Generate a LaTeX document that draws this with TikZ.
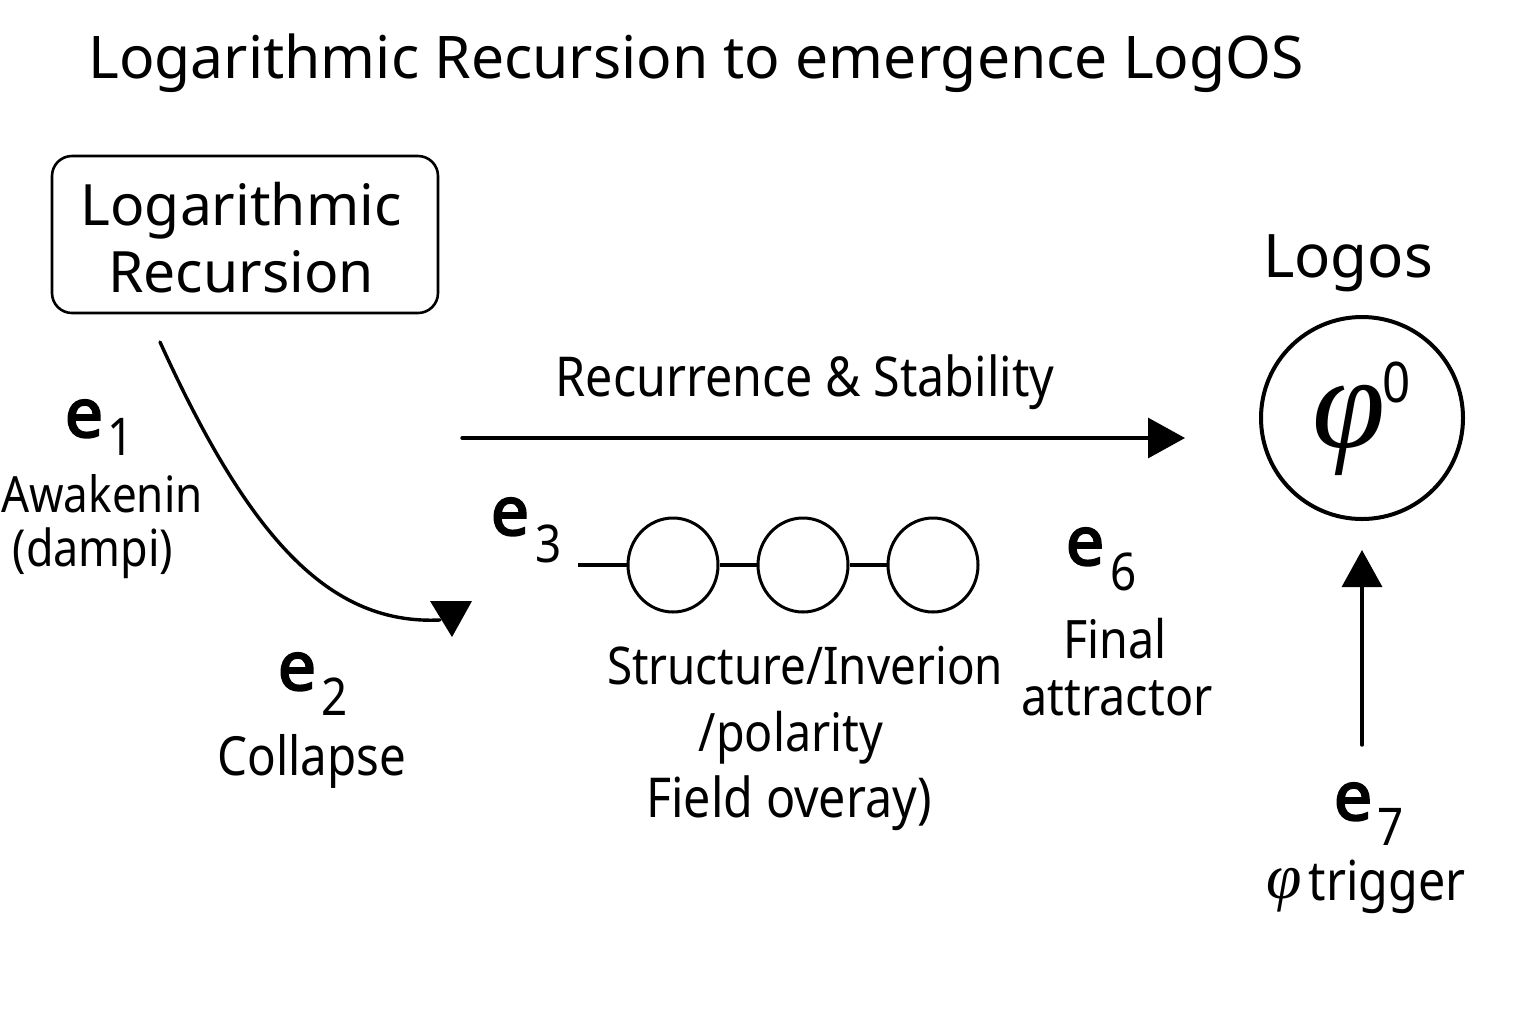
\documentclass[tikz,border=0pt]{standalone}
\usepackage{fontspec}
\setmainfont{Noto Sans}
\newfontfamily\condf{Noto Sans}[FakeStretch=0.88]
\newfontfamily\boldf{Noto Sans}[FakeBold=3]
\newfontfamily\phif{Liberation Serif}
\usetikzlibrary{arrows.meta,shapes.geometric}
\begin{document}
\begin{tikzpicture}[x=0.5pt,y=-0.5pt,
  lbl/.style={inner sep=0pt,anchor=base,font=\condf\fontsize{25.5}{30}\selectfont},
  big/.style={inner sep=0pt,anchor=base,font=\fontsize{28.5}{34}\selectfont},
  ebold/.style={inner sep=0pt,anchor=base,font=\boldf\fontsize{34}{40}\selectfont},
  esub/.style={inner sep=0pt,anchor=base,font=\condf\fontsize{26}{30}\selectfont},
  conn/.style={line width=1.7pt,line cap=round},
  tri/.style={-{Triangle[length=18.5pt,width=20pt]}},
  bead/.style={draw,line width=1.5pt,ellipse,minimum width=45pt,minimum height=47pt,inner sep=0pt}]
\useasboundingbox (0,0) rectangle (1536,1024);
\fill[white] (0,0) rectangle (1536,1024);
% title
\node[inner sep=0pt,anchor=base west,font=\fontsize{29.4}{34}\selectfont] (title) at (88,78) {Logarithmic Recursion to emergence LogOS};
% box
\node[draw,line width=1.3pt,rounded corners=10pt,minimum width=193pt,minimum height=78.5pt,inner sep=0pt] (box) at (245,234.5) {};
\node[big] (boxt1) at (241,225) {Logarithmic};
\node[big] (boxt2) at (241,292) {Recursion};
% curve e1 -> e2
\coordinate (cs) at (160,342);
\coordinate (ce) at (440,620);
\draw[conn] (cs) .. controls (250,540) and (330,625) .. (ce);
\fill (430,601) -- (472,601) -- (452,637) -- cycle;
% e1
\node[ebold] (e1) at (84,437) {e};
\node[esub] (e1s) at (121,455) {1};
\node[lbl,font=\condf\fontsize{25}{30}\selectfont] (aw) at (102,512) {Awakenin};
\node[lbl] (dp) at (93,566) {(dampi)};
% e2
\node[ebold] (e2) at (297,690) {e};
\node[esub] (e2s) at (335,715) {2};
\node[lbl,font=\condf\fontsize{27}{30}\selectfont] (col) at (312,775) {Collapse};
% main arrow
\node[lbl,font=\condf\fontsize{27.5}{32}\selectfont] (rs) at (805,396) {Recurrence \& Stability};
\coordinate (ma) at (462,438);
\coordinate (mb) at (1185,438);
\draw[conn,tri] (ma) -- (mb);
% e3 chain
\node[ebold] (e3) at (510,535) {e};
\node[esub] (e3s) at (549,562) {3};
\coordinate (c0) at (578,565);
\node[bead] (c1) at (673,565) {};
\node[bead] (c2) at (803,565) {};
\node[bead] (c3) at (933,565) {};
\draw[conn,line cap=butt] (c0) -- (c1.west);
\draw[conn,line cap=butt] (c1.east) -- (c2.west);
\draw[conn,line cap=butt] (c2.east) -- (c3.west);
\node[lbl,font=\condf\fontsize{26}{30}\selectfont] (st1) at (805,684) {Structure/Inverion};
\node[lbl,font=\condf\fontsize{26.5}{30}\selectfont] (st2) at (791,751) {/polarity};
\node[lbl,font=\condf\fontsize{27.5}{30}\selectfont] (st3) at (789,817) {Field overay)};
% e6
\node[ebold] (e6) at (1085,565) {e};
\node[esub] (e6s) at (1124,590) {6};
\node[lbl,font=\condf\fontsize{26.5}{30}\selectfont] (fin) at (1115,658) {Final};
\node[lbl,font=\condf\fontsize{26.5}{30}\selectfont] (att) at (1117,715) {attractor};
% Logos
\node[inner sep=0pt,anchor=base,font=\fontsize{30}{36}\selectfont] (logos) at (1348,277) {Logos};
\node[draw,circle,line width=2pt,minimum size=101pt,inner sep=0pt] (phi) at (1362,418) {};
\node[inner sep=0pt,font=\phif\itshape\fontsize{66}{70}\selectfont] (phis) at (1349,430) {φ};
\node[esub,font=\condf\fontsize{28}{30}\selectfont] (phi0) at (1397,402) {0};
% e7
\coordinate (ua) at (1362,745);
\coordinate (ub) at (1362,550);
\draw[conn,tri] (ua) -- (ub);
\node[ebold] (e7) at (1353,820) {e};
\node[esub] (e7s) at (1391,845) {7};
\node[inner sep=0pt,font=\phif\itshape\fontsize{32}{34}\selectfont] (tphi) at (1284,890) {φ};
\node[lbl,font=\condf\fontsize{27.5}{32}\selectfont] (trig) at (1387,900) {trigger};
\end{tikzpicture}
\end{document}
